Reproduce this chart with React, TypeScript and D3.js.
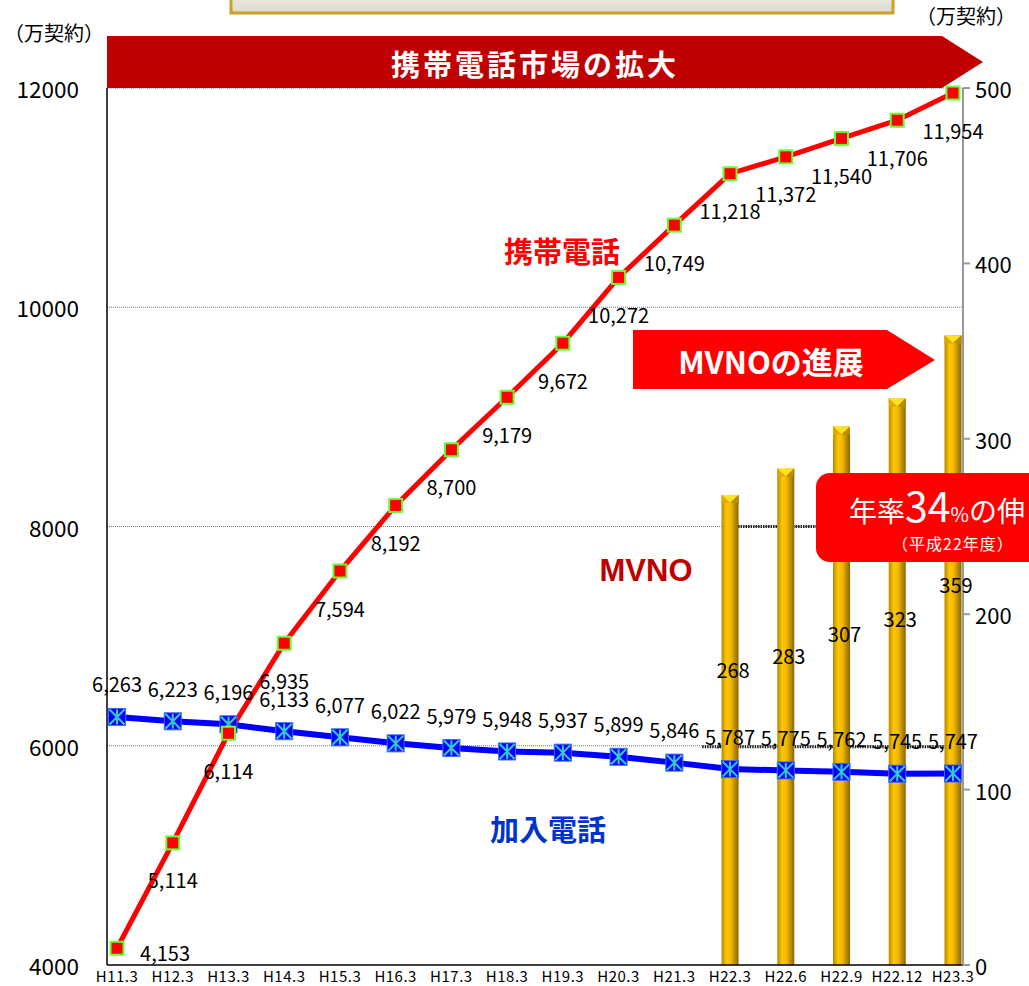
import { useEffect, useRef } from 'react'
import * as d3 from 'd3'

const periods = ['H11.3', 'H12.3', 'H13.3', 'H14.3', 'H15.3', 'H16.3', 'H17.3', 'H18.3', 'H19.3', 'H20.3', 'H21.3', 'H22.3', 'H22.6', 'H22.9', 'H22.12', 'H23.3']
const mobile = [4153, 5114, 6114, 6935, 7594, 8192, 8700, 9179, 9672, 10272, 10749, 11218, 11372, 11540, 11706, 11954]
const landline = [6263, 6223, 6196, 6133, 6077, 6022, 5979, 5948, 5937, 5899, 5846, 5787, 5775, 5762, 5745, 5747]
const mvnoPeriods = ['H22.3', 'H22.6', 'H22.9', 'H22.12', 'H23.3']
const mvno = [268, 283, 307, 323, 359]
const leftTicks = [4000, 6000, 8000, 10000, 12000]
const rightTicks = [0, 100, 200, 300, 400, 500]

const FONT = '"Noto Sans CJK JP", "Noto Sans", sans-serif'
const W = 1029
const H = 986

export default function App() {
  const ref = useRef<SVGSVGElement>(null)

  useEffect(() => {
    if (!ref.current) return
    d3.select(ref.current).selectAll('*').remove()
    render(ref.current)
  }, [])

  return (
    <svg
      ref={ref}
      width={W}
      height={H}
      style={{ position: 'absolute', left: 0, top: 0, display: 'block', background: '#fff' }}
    />
  )
}

function render(el: SVGSVGElement) {
  const plot = { left: 107, right: 963, top: 88, bottom: 965 }

  const svg = d3.select(el).attr('viewBox', `0 0 ${W} ${H}`).style('font-family', FONT)
  const defs = svg.append('defs')

  const barGrad = defs.append('linearGradient').attr('id', 'barGold').attr('x1', 0).attr('x2', 1).attr('y1', 0).attr('y2', 0)
  barGrad.append('stop').attr('offset', '0%').attr('stop-color', '#b88a00')
  barGrad.append('stop').attr('offset', '30%').attr('stop-color', '#ffc800')
  barGrad.append('stop').attr('offset', '55%').attr('stop-color', '#f2b800')
  barGrad.append('stop').attr('offset', '100%').attr('stop-color', '#8a6500')

  const frameGrad = defs.append('linearGradient').attr('id', 'frame').attr('x1', 0).attr('x2', 0).attr('y1', 0).attr('y2', 1)
  frameGrad.append('stop').attr('offset', '0%').attr('stop-color', '#f4f2ec')
  frameGrad.append('stop').attr('offset', '100%').attr('stop-color', '#dcd8cc')

  const x = d3.scalePoint<string>().domain(periods).range([plot.left, plot.right]).padding(0.18)
  const yL = d3.scaleLinear().domain([4000, 12000]).range([plot.bottom, plot.top])
  const yR = d3.scaleLinear().domain([0, 500]).range([plot.bottom, plot.top])
  // bar value labels sit lower than the bar tops
  const yBarLabel = d3.scaleLinear().domain([0, 500]).range([plot.bottom - 45, plot.bottom - 45 - 467])

  // title frame cut off at the top
  svg.append('rect')
    .attr('x', 231).attr('y', -12).attr('width', 662).attr('height', 25)
    .attr('fill', 'url(#frame)').attr('stroke', '#c9a227').attr('stroke-width', 3)

  // gridlines
  svg.append('g')
    .selectAll('line')
    .data(leftTicks.filter((t) => t > 4000))
    .join('line')
    .attr('x1', plot.left).attr('x2', plot.right)
    .attr('y1', (d) => yL(d)).attr('y2', (d) => yL(d))
    .attr('stroke', '#777').attr('stroke-width', 1).attr('stroke-dasharray', '1,1')

  const step = x.step()
  const firstBarX = x(mvnoPeriods[0])!
  svg.append('line')
    .attr('x1', firstBarX + 8).attr('x2', plot.right)
    .attr('y1', yL(8000)).attr('y2', yL(8000))
    .attr('stroke', '#222').attr('stroke-width', 3).attr('stroke-dasharray', '1.5,1')
  svg.append('line')
    .attr('x1', firstBarX - step / 2).attr('x2', plot.right - 18)
    .attr('y1', yL(6000) + 1).attr('y2', yL(6000) + 1)
    .attr('stroke', '#222').attr('stroke-width', 3).attr('stroke-dasharray', '1.5,1')

  // banner
  const bTop = 36
  svg.append('path')
    .attr('d', `M${plot.left},${bTop}L942,${bTop}L983,${(bTop + plot.top) / 2}L942,${plot.top}L${plot.left},${plot.top}Z`)
    .attr('fill', '#c00000')
  svg.append('text')
    .attr('x', 535).attr('y', 63)
    .attr('text-anchor', 'middle').attr('dominant-baseline', 'central')
    .attr('font-size', 29).attr('font-weight', 'bold').attr('fill', '#fff')
    .attr('letter-spacing', 3)
    .text('携帯電話市場の拡大')

  // MVNO bars
  const bw = 17
  const bars = svg.append('g')
  mvnoPeriods.forEach((p, i) => {
    const cx = x(p)!
    const top = yR(mvno[i])
    bars.append('rect')
      .attr('x', cx - bw / 2).attr('y', top)
      .attr('width', bw).attr('height', plot.bottom - top)
      .attr('fill', 'url(#barGold)')
    bars.append('path')
      .attr('d', `M${cx - bw / 2},${top}L${cx + bw / 2},${top}L${cx},${top + 8}Z`)
      .attr('fill', '#ffe21a')
    bars.append('path')
      .attr('d', `M${cx - bw / 2},${top}L${cx},${top + 8}L${cx - bw / 2},${top + 8}Z`)
      .attr('fill', '#e0a800')
    bars.append('path')
      .attr('d', `M${cx + bw / 2},${top}L${cx},${top + 8}L${cx + bw / 2},${top + 8}Z`)
      .attr('fill', '#b88a00')
  })

  // axes
  svg.append('line')
    .attr('x1', plot.left).attr('x2', plot.left).attr('y1', plot.top).attr('y2', plot.bottom)
    .attr('stroke', '#000').attr('stroke-width', 1.5)
  svg.append('line')
    .attr('x1', plot.left).attr('x2', plot.right).attr('y1', plot.bottom).attr('y2', plot.bottom)
    .attr('stroke', '#000').attr('stroke-width', 1.5)
  svg.append('line')
    .attr('x1', plot.right).attr('x2', plot.right).attr('y1', plot.top).attr('y2', plot.bottom)
    .attr('stroke', '#999').attr('stroke-width', 2)

  svg.append('g')
    .selectAll('text')
    .data(leftTicks)
    .join('text')
    .attr('x', 79).attr('y', (d) => yL(d))
    .attr('text-anchor', 'end').attr('dominant-baseline', 'central')
    .attr('font-size', 22.5).attr('fill', '#000')
    .text((d) => d)

  const rAxis = svg.append('g')
  rAxis.selectAll('line')
    .data(rightTicks)
    .join('line')
    .attr('x1', plot.right).attr('x2', plot.right + 7)
    .attr('y1', (d) => yR(d)).attr('y2', (d) => yR(d))
    .attr('stroke', '#999').attr('stroke-width', 2)
  rAxis.selectAll('text')
    .data(rightTicks)
    .join('text')
    .attr('x', 975).attr('y', (d) => yR(d))
    .attr('dominant-baseline', 'central')
    .attr('font-size', 22).attr('fill', '#000')
    .text((d) => d)

  svg.append('g')
    .selectAll('text')
    .data(periods)
    .join('text')
    .attr('x', (d) => x(d)!).attr('y', 975)
    .attr('text-anchor', 'middle').attr('dominant-baseline', 'central')
    .attr('font-size', 15).attr('letter-spacing', 0.5).attr('fill', '#000')
    .text((d) => d)

  svg.append('text')
    .attr('x', 4).attr('y', 32).attr('dominant-baseline', 'central')
    .attr('font-size', 20).attr('fill', '#000')
    .text('（万契約）')
  svg.append('text')
    .attr('x', 916).attr('y', 15).attr('dominant-baseline', 'central')
    .attr('font-size', 20).attr('fill', '#000')
    .text('（万契約）')

  // lines
  const line = d3.line<number>().x((_, i) => x(periods[i])!).y((d) => yL(d))

  svg.append('path')
    .datum(landline)
    .attr('d', line)
    .attr('fill', 'none').attr('stroke', '#0000ff').attr('stroke-width', 6)

  svg.append('path')
    .datum(mobile)
    .attr('d', line)
    .attr('fill', 'none').attr('stroke', '#ff0000').attr('stroke-width', 5)

  // landline markers
  const ms = 17
  const lm = svg.append('g')
  landline.forEach((v, i) => {
    const cx = x(periods[i])!
    const cy = yL(v)
    const g = lm.append('g').attr('transform', `translate(${cx},${cy})`)
    g.append('rect')
      .attr('x', -ms / 2).attr('y', -ms / 2).attr('width', ms).attr('height', ms)
      .attr('fill', '#0000ff').attr('stroke', '#3a6cff').attr('stroke-width', 1)
    const a = ms / 2 - 1
    g.append('path')
      .attr('d', `M${-a},${-a}L${a},${a}M${a},${-a}L${-a},${a}M0,${-a}L0,${a}`)
      .attr('stroke', '#33cccc').attr('stroke-width', 2)
  })

  // mobile markers
  const ws = 13
  svg.append('g')
    .selectAll('rect')
    .data(mobile)
    .join('rect')
    .attr('x', (_, i) => x(periods[i])! - ws / 2)
    .attr('y', (d) => yL(d) - ws / 2)
    .attr('width', ws).attr('height', ws)
    .attr('fill', '#ff0000').attr('stroke', '#66ff33').attr('stroke-width', 2)

  // value labels
  svg.append('g')
    .selectAll('text')
    .data(landline)
    .join('text')
    .attr('x', (_, i) => x(periods[i])!)
    .attr('y', (d) => yL(d) - 33)
    .attr('text-anchor', 'middle').attr('dominant-baseline', 'central')
    .attr('font-size', 20).attr('fill', '#000')
    .text((d) => d3.format(',')(d))

  svg.append('g')
    .selectAll('text')
    .data(mobile)
    .join('text')
    .attr('x', (_, i) => x(periods[i])! + (i === 0 ? 48 : 0))
    .attr('y', (d, i) => (i === 0 ? yL(d) + 4 : yL(d) + 37))
    .attr('text-anchor', 'middle').attr('dominant-baseline', 'central')
    .attr('font-size', 20).attr('fill', '#000')
    .text((d) => d3.format(',')(d))

  svg.append('g')
    .selectAll('text')
    .data(mvno)
    .join('text')
    .attr('x', (_, i) => x(mvnoPeriods[i])! + 3)
    .attr('y', (d) => yBarLabel(d))
    .attr('text-anchor', 'middle').attr('dominant-baseline', 'central')
    .attr('font-size', 20).attr('fill', '#000')
    .text((d) => d)

  // series names
  svg.append('text')
    .attr('x', 562).attr('y', 250).attr('text-anchor', 'middle').attr('dominant-baseline', 'central')
    .attr('font-size', 29).attr('font-weight', 'bold').attr('fill', '#ff0000')
    .text('携帯電話')
  svg.append('text')
    .attr('x', 646).attr('y', 570).attr('text-anchor', 'middle').attr('dominant-baseline', 'central')
    .attr('font-size', 31).attr('font-weight', 'bold').attr('fill', '#c00000')
    .style('font-family', '"Liberation Sans", Arial, sans-serif')
    .text('MVNO')
  svg.append('text')
    .attr('x', 548).attr('y', 828).attr('text-anchor', 'middle').attr('dominant-baseline', 'central')
    .attr('font-size', 29).attr('font-weight', 'bold').attr('fill', '#0033cc')
    .text('加入電話')

  // MVNO arrow
  svg.append('path')
    .attr('d', 'M633,330L887,330L935,360L887,389L633,389Z')
    .attr('fill', '#ff0000')
  svg.append('text')
    .attr('x', 771).attr('y', 360).attr('text-anchor', 'middle').attr('dominant-baseline', 'central')
    .attr('font-size', 31).attr('font-weight', 'bold').attr('fill', '#fff')
    .text('MVNOの進展')

  // growth callout
  svg.append('rect')
    .attr('x', 816).attr('y', 473).attr('width', 240).attr('height', 89).attr('rx', 14)
    .attr('fill', '#ff0000')
  const t = svg.append('text')
    .attr('x', 849).attr('y', 522).attr('fill', '#fff')
  t.append('tspan').attr('font-size', 28).text('年率')
  t.append('tspan').attr('font-size', 41).text('34')
  t.append('tspan').attr('font-size', 20).text('%')
  t.append('tspan').attr('font-size', 28).text('の伸')
  svg.append('text')
    .attr('x', 892).attr('y', 543).attr('dominant-baseline', 'central')
    .attr('font-size', 16).attr('fill', '#fff').attr('letter-spacing', 1)
    .text('（平成22年度）')
}
